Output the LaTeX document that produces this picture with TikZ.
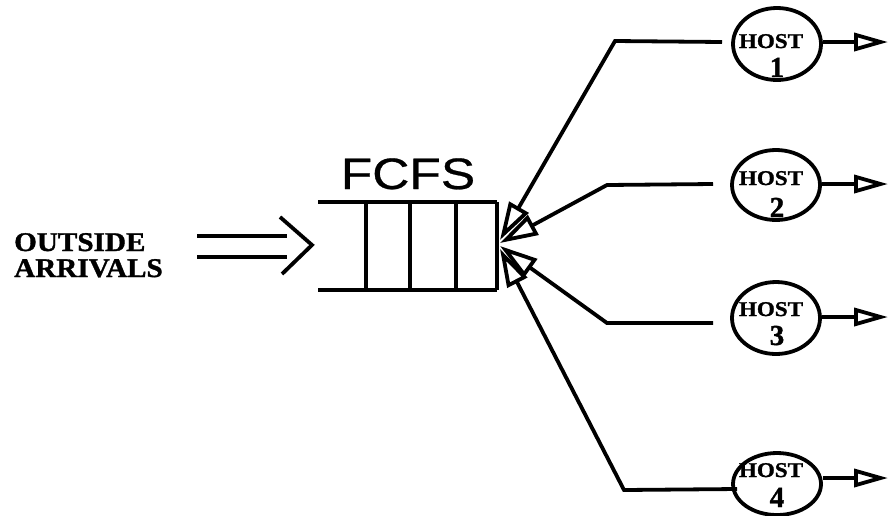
\documentclass[tikz,border=0pt]{standalone}
\usepackage{fontspec}
\usepackage{graphicx}
\setmainfont{Liberation Serif}[BoldFeatures={FakeBold=1.2}]
\newfontfamily\fcfsfont{Liberation Sans}[FakeBold=0.6]
\usetikzlibrary{arrows.meta,shapes.geometric}
\tikzset{
  ln/.style={line width=3.8pt, line join=miter},
  hostshape/.style={ellipse, draw, line width=3.8pt, inner sep=0pt, minimum width=88pt},
  hosttxt/.style={font=\bfseries\fontsize{21}{21}\selectfont, anchor=base, inner sep=0pt},
  hostnum/.style={font=\bfseries\fontsize{29}{29}\selectfont, anchor=base, inner sep=0pt},
  inarrow/.style={ln, -{Triangle[open, length=38pt, width=22pt, line width=3.8pt]}},
  outarrow/.style={ln, -{Triangle[open, length=34pt, width=18pt, line width=3.8pt]}},
}
\begin{document}
\begin{tikzpicture}[x=1pt, y=-1pt]
\useasboundingbox (0,0) rectangle (890,515);

% outside arrivals
\node[font=\bfseries\fontsize{27}{26}\selectfont, align=left, anchor=base west, inner sep=0pt] (oa) at (14,277) {\scalebox{1.08}[1]{OUTSIDE}\\\scalebox{1.08}[1]{ARRIVALS}};

% double arrow
\coordinate (d1s) at (197,236); \coordinate (d1e) at (287,236);
\coordinate (d2s) at (197,257); \coordinate (d2e) at (287,257);
\coordinate (c1) at (280,217); \coordinate (c2) at (312,245); \coordinate (c3) at (282,274);
\draw[ln] (d1s) -- (d1e);
\draw[ln] (d2s) -- (d2e);
\draw[ln] (c1) -- (c2) -- (c3);

% queue
\node[font=\fcfsfont\fontsize{44}{44}\selectfont, anchor=base, inner sep=0pt] (fcfs) at (408,189) {\scalebox{1.17}[1]{FCFS}};
\coordinate (qtl) at (318,202); \coordinate (qtr) at (497,202);
\coordinate (qbl) at (318,290); \coordinate (qbr) at (497,290);
\draw[ln] (qtl) -- (qtr);
\draw[ln] (qbl) -- (qbr);
\foreach \x in {366,410,456} \draw[ln] (\x,202) -- (\x,290);
\draw[ln] (qtr) -- (qbr);

% hosts
\node[hostshape, minimum height=72pt] (h1) at (777,44) {};
\node[hostshape, minimum height=70pt] (h2) at (776,185) {};
\node[hostshape, minimum height=72pt] (h3) at (776,318) {};
\node[hostshape, minimum height=62pt] (h4) at (777,484) {};

\node[hosttxt] (t1) at (771,48) {\scalebox{1.1}[1]{HOST}};
\node[hostnum] (n1) at (777,77) {1};
\node[hosttxt] (t2) at (771,185) {\scalebox{1.1}[1]{HOST}};
\node[hostnum] (n2) at (777,217) {2};
\node[hosttxt] (t3) at (771,316) {\scalebox{1.1}[1]{HOST}};
\node[hostnum] (n3) at (777,345) {3};
\node[hosttxt] (t4) at (771,477) {\scalebox{1.1}[1]{HOST}};
\node[hostnum] (n4) at (777,507) {4};

% incoming connectors (host -> queue)
\coordinate (e1) at (722,42);  \coordinate (b1) at (615,41);  \coordinate (q1) at (500,240);
\coordinate (e2) at (713,184); \coordinate (b2) at (607,185); \coordinate (q2) at (500,243);
\coordinate (e3) at (713,323); \coordinate (b3) at (607,323); \coordinate (q3) at (500,246);
\coordinate (e4) at (737,489); \coordinate (b4) at (624,490); \coordinate (q4) at (500,249);
\draw[inarrow] (e1) -- (b1) -- (q1);
\draw[inarrow] (e2) -- (b2) -- (q2);
\draw[inarrow] (e3) -- (b3) -- (q3);
\draw[inarrow] (e4) -- (b4) -- (q4);

% outgoing arrows
\coordinate (o1) at (888,42);
\coordinate (o2) at (888,184);
\coordinate (o3) at (888,317);
\coordinate (o4) at (888,478);
\draw[outarrow] (h1.east |- o1) -- (o1);
\draw[outarrow] (h2.east |- o2) -- (o2);
\draw[outarrow] (h3.east |- o3) -- (o3);
\draw[outarrow] (h4.east |- o4) -- (o4);
\end{tikzpicture}
\end{document}
